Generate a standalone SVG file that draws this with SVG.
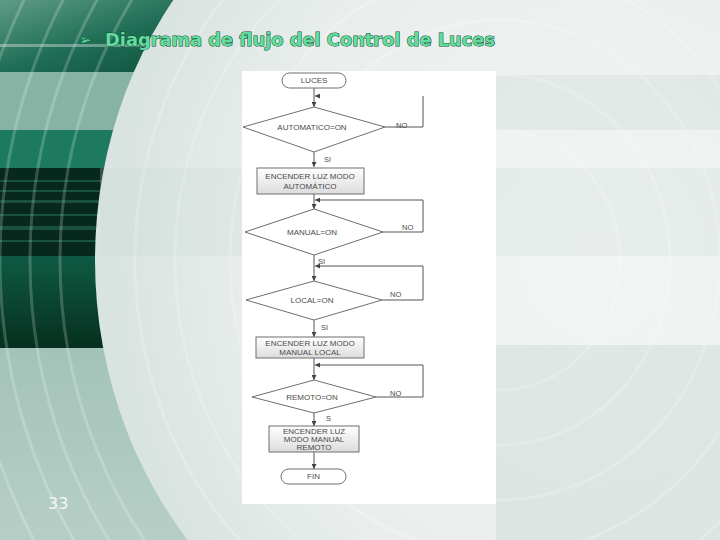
<svg xmlns="http://www.w3.org/2000/svg" width="720" height="540" viewBox="0 0 720 540">
<defs>
<linearGradient id="bg" x1="0" y1="0" x2="1" y2="1">
<stop offset="0" stop-color="#eef2f1"/>
<stop offset="0.6" stop-color="#e6ecea"/>
<stop offset="1" stop-color="#b9cec6"/>
</linearGradient>
<radialGradient id="disk" cx="0.62" cy="0.5" r="0.6">
<stop offset="0" stop-color="#f3f5f4"/>
<stop offset="0.7" stop-color="#e9eeec"/>
<stop offset="1" stop-color="#d9e3df"/>
</radialGradient>
<linearGradient id="topleft" x1="0" y1="0" x2="1" y2="1">
<stop offset="0" stop-color="#5f9c86"/>
<stop offset="0.5" stop-color="#1f6d55"/>
<stop offset="1" stop-color="#0e4c39"/>
</linearGradient>
<linearGradient id="sage" x1="0" y1="0" x2="0" y2="1">
<stop offset="0" stop-color="#a3c3b8"/>
<stop offset="1" stop-color="#b6cfc6"/>
</linearGradient>
<linearGradient id="darkband" x1="0" y1="0" x2="0" y2="1">
<stop offset="0" stop-color="#0f5a43"/>
<stop offset="1" stop-color="#06301f"/>
</linearGradient>
<linearGradient id="boxfill" x1="0" y1="0" x2="0" y2="1">
<stop offset="0" stop-color="#ffffff"/>
<stop offset="1" stop-color="#dcdcdc"/>
</linearGradient>
<marker id="arr" viewBox="0 0 10 10" refX="10" refY="5" markerWidth="5" markerHeight="5" markerUnits="userSpaceOnUse" orient="auto">
<path d="M0,0 L10,5 L0,10 z" fill="#444"/>
</marker>
<style>
.node{fill:#ffffff;stroke:#6f6f6f;stroke-width:1}
.box{fill:url(#boxfill);stroke:#6f6f6f;stroke-width:1}
.t{font-family:"Liberation Sans",Arial,sans-serif;font-size:8px;fill:#4a4a4a;text-anchor:middle;dominant-baseline:central}
.lbl{font-family:"Liberation Sans",Arial,sans-serif;font-size:7.5px;fill:#4a4a4a}
.conn path{fill:none;stroke:#555;stroke-width:1}
.ring{fill:none;stroke:#ffffff;stroke-opacity:0.2;stroke-width:3}
</style>
</defs>

<!-- background -->
<rect x="0" y="0" width="720" height="540" fill="url(#bg)"/>
<rect x="0" y="0" width="220" height="72" fill="url(#topleft)"/>
<rect x="0" y="72" width="200" height="58" fill="#86b3a3"/>
<rect x="0" y="130" width="200" height="38" fill="#1d7a5e"/>
<rect x="0" y="168" width="200" height="88" fill="#07281d"/>
<g fill="#1f5a47" opacity="0.8">
<rect x="0" y="180" width="200" height="2"/>
<rect x="0" y="190" width="200" height="2"/>
<rect x="0" y="200" width="200" height="3"/>
<rect x="0" y="214" width="200" height="2"/>
<rect x="0" y="226" width="200" height="4"/>
<rect x="0" y="240" width="200" height="2"/>
</g>
<rect x="0" y="256" width="200" height="92" fill="url(#darkband)"/>
<rect x="0" y="348" width="220" height="192" fill="url(#sage)"/>
<rect x="0" y="44" width="150" height="3" fill="#ffffff" opacity="0.35"/>
<ellipse cx="500" cy="260" rx="405" ry="440" fill="url(#disk)"/>
<rect x="100" y="168" width="620" height="88" fill="#c9d6d2" opacity="0.25"/>
<rect x="496" y="75" width="224" height="55" fill="#d6e0dd" opacity="0.5"/>
<rect x="496" y="345" width="224" height="195" fill="#b9cdc6" opacity="0.3"/>
<g>
<ellipse class="ring" cx="500" cy="260" rx="120" ry="130"/>
<ellipse class="ring" cx="500" cy="260" rx="170" ry="185"/>
<ellipse class="ring" cx="500" cy="260" rx="220" ry="240"/>
<ellipse class="ring" cx="500" cy="260" rx="270" ry="295"/>
<ellipse class="ring" cx="500" cy="260" rx="325" ry="355"/>
<ellipse class="ring" cx="500" cy="260" rx="365" ry="400"/>
<ellipse class="ring" cx="500" cy="260" rx="440" ry="475"/>
<ellipse class="ring" cx="500" cy="260" rx="470" ry="505"/>
<ellipse class="ring" cx="500" cy="260" rx="500" ry="535"/>
<ellipse class="ring" cx="500" cy="260" rx="535" ry="570"/>
</g>

<!-- title & page number -->
<text x="79" y="45" font-family="'DejaVu Sans',sans-serif" font-size="15" fill="#62dc9c" stroke="#0d4d33" stroke-width="0.6" paint-order="stroke">➢</text>
<text x="105" y="46" font-family="'DejaVu Sans',sans-serif" font-size="17.5" font-weight="bold" textLength="390" lengthAdjust="spacingAndGlyphs" fill="#62dc9c" stroke="#0d4d33" stroke-width="1" paint-order="stroke">Diagrama de flujo del Control de Luces</text>
<text x="48" y="509" font-family="'DejaVu Sans',sans-serif" font-size="16" fill="#f4f7f6">33</text>

<!-- flowchart panel -->
<rect x="242" y="71" width="254" height="433" fill="#ffffff"/>

<g class="conn" id="connectors">
<path d="M314,88 V107" marker-end="url(#arr)"/>
<path d="M385,127 H423 V96"/>
<path d="M320,96 H315" marker-end="url(#arr)"/>
<path d="M314,152 V167" marker-end="url(#arr)"/>
<path d="M314,194 V209" marker-end="url(#arr)"/>
<path d="M383,232 H423 V200 H315" marker-end="url(#arr)"/>
<path d="M314,255 V281" marker-end="url(#arr)"/>
<path d="M382,300 H423 V266 H315" marker-end="url(#arr)"/>
<path d="M314,320 V337" marker-end="url(#arr)"/>
<path d="M314,358 V380" marker-end="url(#arr)"/>
<path d="M376,397 H423 V365 H315" marker-end="url(#arr)"/>
<path d="M314,413 V426" marker-end="url(#arr)"/>
<path d="M314,452 V469" marker-end="url(#arr)"/>
<text class="lbl" x="396" y="128">NO</text>
<text class="lbl" x="324" y="162">SI</text>
<text class="lbl" x="402" y="230">NO</text>
<text class="lbl" x="318" y="264">SI</text>
<text class="lbl" x="390" y="297">NO</text>
<text class="lbl" x="321" y="330">SI</text>
<text class="lbl" x="390" y="396">NO</text>
<text class="lbl" x="326" y="421">S</text>
</g>

<g id="start">
<rect class="node" x="282" y="73" width="64" height="15" rx="7.5"/>
<text class="t" x="314" y="80.5">LUCES</text>
</g>
<g id="dec_automatico">
<polygon class="node" points="314,107 385,127 314,152 243,127"/>
<text class="t" x="312" y="127">AUTOMATICO=ON</text>
</g>
<g id="proc_automatico">
<rect class="box" x="257" y="168" width="107" height="26"/>
<text class="t" x="310" y="176">ENCENDER LUZ MODO</text>
<text class="t" x="310" y="186">AUTOMÁTICO</text>
</g>
<g id="dec_manual">
<polygon class="node" points="314,209 383,232 314,255 245,232"/>
<text class="t" x="312" y="232">MANUAL=ON</text>
</g>
<g id="dec_local">
<polygon class="node" points="314,281 382,300 314,320 246,300"/>
<text class="t" x="312" y="300">LOCAL=ON</text>
</g>
<g id="proc_local">
<rect class="box" x="256" y="337" width="108" height="21"/>
<text class="t" x="310" y="343">ENCENDER LUZ MODO</text>
<text class="t" x="310" y="352">MANUAL LOCAL</text>
</g>
<g id="dec_remoto">
<polygon class="node" points="314,380 376,397 314,413 252,397"/>
<text class="t" x="312" y="397">REMOTO=ON</text>
</g>
<g id="proc_remoto">
<rect class="box" x="269" y="426" width="90" height="26"/>
<text class="t" x="314" y="431">ENCENDER LUZ</text>
<text class="t" x="314" y="439">MODO MANUAL</text>
<text class="t" x="314" y="447">REMOTO</text>
</g>
<g id="end">
<rect class="node" x="281" y="469" width="65" height="15" rx="7.5"/>
<text class="t" x="313.5" y="476.5">FIN</text>
</g>
</svg>
